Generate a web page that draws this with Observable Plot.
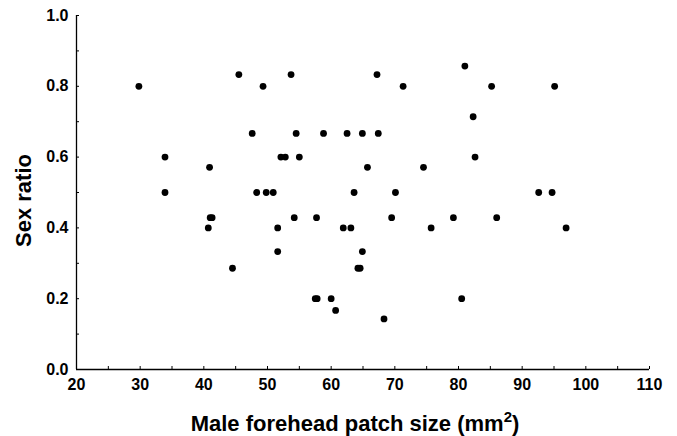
<!DOCTYPE html>
<html><head><meta charset="utf-8">
<script src="https://cdn.jsdelivr.net/npm/d3@7"></script>
<script src="https://cdn.jsdelivr.net/npm/@observablehq/plot@0.6"></script>
<style>
body{margin:0;background:#fff}
svg{font-family:"Liberation Sans",Arial,Helvetica,sans-serif}
</style>
</head><body><div id="chart"></div>
<script>
// Male forehead patch size (mm^2)
const patchSize = [29.8, 33.9, 33.9, 40.9, 45.5, 49.3, 47.6, 48.3, 49.8, 50.9,
  52.1, 52.8, 53.7, 54.5, 55.0, 58.8, 67.2, 71.3, 81.0, 85.2,
  95.1, 82.3, 62.5, 64.9, 67.4, 82.6, 65.7, 74.5, 63.6, 70.1,
  92.6, 94.7, 40.7, 41.0, 41.3, 44.5, 51.6, 51.6, 54.2, 57.7,
  57.5, 57.8, 60.0, 60.7, 69.5, 79.2, 86.0, 61.9, 63.1, 75.7,
  96.9, 64.9, 64.2, 64.55, 80.5, 68.3];
// Sex ratio
const sexRatio = [0.8, 0.6, 0.5, 0.571, 0.833, 0.8, 0.667, 0.5, 0.5, 0.5,
  0.6, 0.6, 0.833, 0.667, 0.6, 0.667, 0.833, 0.8, 0.857, 0.8,
  0.8, 0.714, 0.667, 0.667, 0.667, 0.6, 0.571, 0.571, 0.5, 0.5,
  0.5, 0.5, 0.4, 0.429, 0.429, 0.286, 0.4, 0.333, 0.429, 0.429,
  0.2, 0.2, 0.2, 0.167, 0.429, 0.429, 0.429, 0.4, 0.4, 0.4,
  0.4, 0.333, 0.286, 0.286, 0.2, 0.143];
const xTickLabels = [20, 30, 40, 50, 60, 70, 80, 90, 100, 110];
const yTickLabels = [0, 0.2, 0.4, 0.6, 0.8, 1.0];
const xTickMarks = [20, 25, 30, 35, 40, 45, 50, 55, 60, 65, 70, 75, 80, 85, 90, 95, 100, 105, 110];
const yTickMarks = [0, 0.1, 0.2, 0.3, 0.4, 0.5, 0.6, 0.7, 0.8, 0.9, 1.0];
const xTitle = "Male forehead patch size (mm2)";
const yTitle = "Sex ratio";

const data = patchSize.map((x, i) => ({x, y: sexRatio[i]}));
const W = 677, H = 436, mL = 76, mR = 28, mT = 15, mB = 67;
const plotW = W - mL - mR, plotH = H - mT - mB;

const chart = Plot.plot({
  width: W, height: H,
  marginLeft: mL, marginRight: mR, marginTop: mT, marginBottom: mB,
  style: {fontFamily: '"Liberation Sans",Arial,Helvetica,sans-serif', background: "white", color: "black", overflow: "visible"},
  x: {domain: [20, 110]},
  y: {domain: [0, 1]},
  marks: [
    Plot.axisX({ticks: xTickLabels, tickSize: 0, tickPadding: 9, tickFormat: d => String(d), fontSize: 16, fontWeight: "bold", label: null}),
    Plot.axisY({ticks: yTickLabels, tickSize: 0, tickPadding: 8, tickFormat: d3.format(".1f"), fontSize: 16, fontWeight: "bold", label: null}),
    Plot.tickX(xTickMarks, {x: d => d, insetTop: plotH - 3, stroke: "black"}),
    Plot.tickY(yTickMarks, {y: d => d, insetRight: plotW - 3, stroke: "black"}),
    Plot.ruleX([20], {stroke: "black", strokeWidth: 1.3}),
    Plot.ruleY([0], {stroke: "black", strokeWidth: 1.3}),
    Plot.dot(data, {x: "x", y: "y", r: 3.4, fill: "black", stroke: "none"}),
    Plot.text([yTitle], {text: d => d, frameAnchor: "left", textAnchor: "middle", lineAnchor: "middle", rotate: -90, dx: -53, dy: 8, fontSize: 22, fontWeight: "bold", fill: "black"}),
    Plot.text([xTitle], {text: d => d, frameAnchor: "bottom", textAnchor: "middle", lineAnchor: "middle", dx: -8, dy: 54, fontSize: 22, fontWeight: "bold", fill: "black"})
  ]
});
document.getElementById("chart").appendChild(chart);

// superscript the "2" in mm2
chart.querySelectorAll("text").forEach(t => {
  if (t.textContent === xTitle) {
    const ns = "http://www.w3.org/2000/svg";
    t.textContent = xTitle.slice(0, -2);
    const sup = document.createElementNS(ns, "tspan");
    sup.setAttribute("dy", "-9");
    sup.setAttribute("font-size", "15");
    sup.textContent = "2";
    const close = document.createElementNS(ns, "tspan");
    close.setAttribute("dy", "9");
    close.textContent = ")";
    t.appendChild(sup);
    t.appendChild(close);
  }
});
</script>
</body></html>
